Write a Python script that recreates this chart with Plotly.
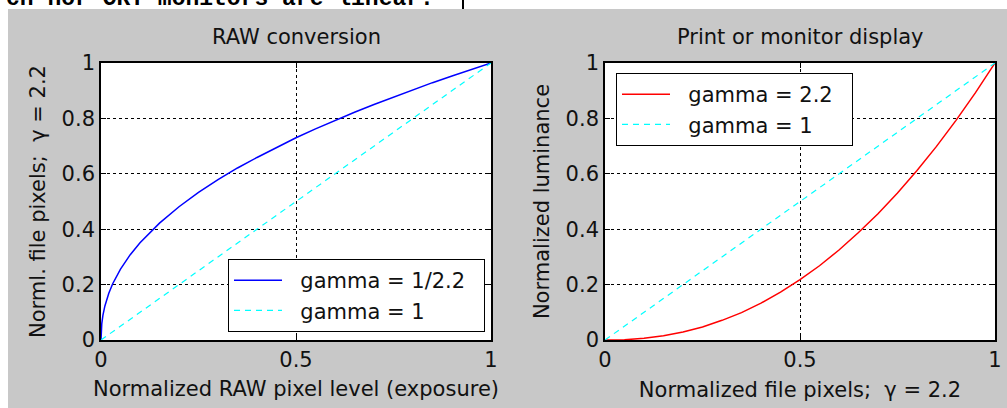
import plotly.graph_objects as go

W, H = 1007, 408
FONT = "DejaVu Sans"
FS = 21
NB = "\u00a0"

# ---- data ----
# Left panel: RAW conversion (gamma = 1/2.2)
raw_x = [0, 0.001, 0.002, 0.005, 0.01, 0.02, 0.03, 0.05, 0.075, 0.1, 0.15, 0.2, 0.25,
         0.3, 0.35, 0.4, 0.45, 0.5, 0.55, 0.6, 0.65, 0.7, 0.75, 0.8, 0.85, 0.9, 0.95, 1.0]
raw_y = [0, 0.043, 0.059, 0.090, 0.123, 0.169, 0.203, 0.256, 0.308, 0.351, 0.422, 0.481, 0.533,
         0.579, 0.621, 0.659, 0.696, 0.730, 0.762, 0.793, 0.822, 0.850, 0.877, 0.904, 0.929, 0.953, 0.977, 1.0]
# gamma = 1 reference line (both panels)
lin_x = [0, 1]
lin_y = [0, 1]
# Right panel: display (gamma = 2.2)
disp_x = [0, 0.05, 0.1, 0.15, 0.2, 0.25, 0.3, 0.35, 0.4, 0.45, 0.5,
          0.55, 0.6, 0.65, 0.7, 0.75, 0.8, 0.85, 0.9, 0.95, 1.0]
disp_y = [0, 0.001, 0.006, 0.015, 0.029, 0.047, 0.071, 0.099, 0.133, 0.173, 0.218,
          0.268, 0.325, 0.388, 0.456, 0.531, 0.612, 0.699, 0.793, 0.893, 1.0]

x_ticks = [0, 0.5, 1]
x_ticktext = ["0", "0.5", "1"]
y_ticks = [0, 0.2, 0.4, 0.6, 0.8, 1]
y_ticktext = ["0", "0.2", "0.4", "0.6", "0.8", "1"]

def lab(s):
    return NB * 2 + s + NB * 2

fig = go.Figure()
fig.add_trace(go.Scatter(x=raw_x, y=raw_y, mode="lines", name=lab("gamma = 1/2.2"),
                         line=dict(color="#0000ff", width=1.5), xaxis="x", yaxis="y", legend="legend"))
fig.add_trace(go.Scatter(x=lin_x, y=lin_y, mode="lines", name=lab("gamma = 1"),
                         line=dict(color="#00ffff", width=1.2, dash="6px,5px"), xaxis="x", yaxis="y", legend="legend"))
fig.add_trace(go.Scatter(x=disp_x, y=disp_y, mode="lines", name=lab("gamma = 2.2"),
                         line=dict(color="#ff0000", width=1.5), xaxis="x2", yaxis="y2", legend="legend2"))
fig.add_trace(go.Scatter(x=lin_x, y=lin_y, mode="lines", name=lab("gamma = 1"),
                         line=dict(color="#00ffff", width=1.2, dash="6px,5px"), xaxis="x2", yaxis="y2", legend="legend2"))

tickfont = dict(family=FONT, size=FS, color="#111")
common = dict(range=[0, 1], showgrid=True, gridcolor="black", griddash="3px,3px", gridwidth=1,
              zeroline=False, showline=True, linecolor="black", linewidth=1.6, mirror="ticks",
              ticks="inside", ticklen=5, tickcolor="black", tickwidth=1, tickfont=tickfont,
              fixedrange=True, automargin=False)
ydom = [1 - 340 / H, 1 - 63 / H]
tfont = dict(family=FONT, size=FS, color="#111")

fig.update_layout(
    width=W, height=H,
    margin=dict(l=0, r=0, t=0, b=0, pad=0, autoexpand=False),
    paper_bgcolor="#c8c8c8", plot_bgcolor="white",
    font=dict(family=FONT, size=FS, color="#111"),
    xaxis=dict(common, domain=[101 / W, 491 / W], tickvals=x_ticks, ticktext=x_ticktext,
               anchor="y",
               title=dict(text="Normalized RAW pixel level (exposure)", standoff=10, font=tfont)),
    yaxis=dict(common, domain=ydom, tickvals=y_ticks, ticktext=y_ticktext, anchor="x",
               title=dict(text="Norml. file pixels;  \u03b3 = 2.2", standoff=10, font=tfont)),
    xaxis2=dict(common, domain=[605 / W, 995 / W], tickvals=x_ticks, ticktext=x_ticktext,
                anchor="y2",
                title=dict(text="Normalized file pixels;  \u03b3 = 2.2", standoff=11, font=tfont)),
    yaxis2=dict(common, domain=ydom, tickvals=y_ticks, ticktext=y_ticktext, anchor="x2",
                title=dict(text="Normalized luminance", standoff=10, font=tfont)),
    legend=dict(x=228 / W, y=1 - 259 / H, xanchor="left", yanchor="top", bgcolor="white",
                bordercolor="black", borderwidth=1, itemwidth=48,
                font=dict(family=FONT, size=FS, color="#111")),
    legend2=dict(x=616 / W, y=1 - 73 / H, xanchor="left", yanchor="top", bgcolor="white",
                 bordercolor="black", borderwidth=1, itemwidth=48,
                 font=dict(family=FONT, size=FS, color="#111")),
    showlegend=True,
)

# page background outside the figure window (white strips) and the cut-off line above
fig.add_shape(type="rect", xref="paper", yref="paper", x0=0, x1=1, y0=1 - 9 / H, y1=1,
              fillcolor="white", line=dict(width=0), layer="below")
fig.add_shape(type="rect", xref="paper", yref="paper", x0=0, x1=8 / W, y0=0, y1=1,
              fillcolor="white", line=dict(width=0), layer="below")
fig.add_shape(type="line", xref="paper", yref="paper", x0=463 / W, x1=463 / W, y0=1 - 9 / H, y1=1,
              line=dict(color="black", width=2))

fig.add_annotation(text="<b>ch nor CRT monitors are linear.</b>", xref="paper", yref="paper",
                   x=436 / W, y=1 - 14 / H, xanchor="right", yanchor="bottom", showarrow=False,
                   font=dict(family="Liberation Mono", size=23, color="black"))

# panel titles
fig.add_annotation(text="RAW conversion", xref="paper", yref="paper", x=296 / W, y=1 - 37 / H,
                   xanchor="center", yanchor="middle", showarrow=False, font=tfont)
fig.add_annotation(text="Print or monitor display", xref="paper", yref="paper", x=800 / W, y=1 - 37 / H,
                   xanchor="center", yanchor="middle", showarrow=False, font=tfont)

fig.write_html("out.html", config={"displayModeBar": False},
               post_script="document.body.style.margin='0px';document.body.style.overflow='hidden';")
